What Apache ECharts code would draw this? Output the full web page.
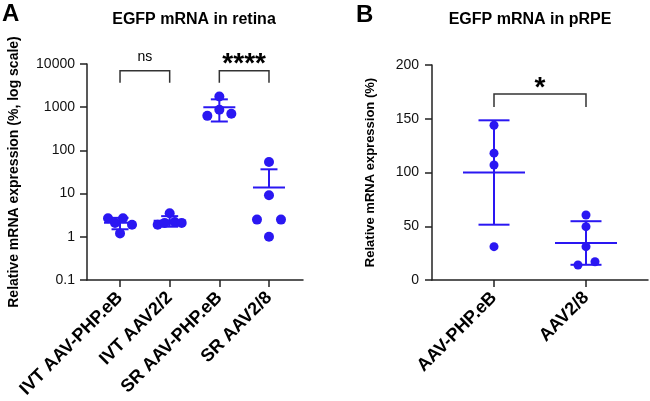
<!DOCTYPE html>
<html><head><meta charset="utf-8">
<script src="https://cdn.jsdelivr.net/npm/echarts@6/dist/echarts.min.js"></script>
<style>html,body{margin:0;padding:0;background:#fff}#c{width:650px;height:401px}</style>
</head><body><div id="c"></div>
<script>
// ---- data ----
const categoriesA = ['IVT AAV-PHP.eB', 'IVT AAV2/2', 'SR AAV-PHP.eB', 'SR AAV2/8'];
const retinaIvtPhp = [2.7, 2.7, 2.1, 1.9, 1.2];
const retinaIvt22 = [3.5, 1.9, 2.1, 2.2, 2.1];
const retinaSrPhp = [1770, 870, 630, 705];
const retinaSr28 = [54, 9.2, 2.5, 2.5, 1.0];
const yTicksA = [0.1, 1, 10, 100, 1000, 10000];
const categoriesB = ['AAV-PHP.eB', 'AAV2/8'];
const rpePhp = [144, 118, 107, 31];
const rpe28 = [60.5, 49.6, 31, 17, 14];
const yTicksB = [0, 50, 100, 150, 200];
const sigA = [{from: 1, to: 2, level: 7000, leg: 3700, label: 'ns'}, {from: 3, to: 4, level: 7000, leg: 3700, label: '****'}];
const sigB = [{from: 1, to: 2, level: 173, leg: 161, label: '*'}];

// ---- layout / style ----
const jitterA = [[-12, 3, -5, 12, 0], [0, -12, -5, 5, 12], [0, 0, -12, 12], [0, 0, -12, 12, 0]];
const jitterB = [[0, 0, 0, 0], [0, 0, 0, 9, -8]];
const BLUE = '#2a17f2';
const FONT = '"Liberation Sans", Arial, sans-serif';
const AX = '#222';

const groupsA = [retinaIvtPhp, retinaIvt22, retinaSrPhp, retinaSr28];
const groupsB = [rpePhp, rpe28];

function stats(arr) {
  const n = arr.length, m = arr.reduce((a, b) => a + b, 0) / n;
  const sd = Math.sqrt(arr.reduce((a, b) => a + (b - m) * (b - m), 0) / (n - 1));
  return [m, sd];
}
function pts(groups, jit, size) {
  const out = [];
  groups.forEach((g, i) => g.forEach((v, j) => out.push({value: [i + 1, v], symbolOffset: [jit[i][j], 0], symbolSize: size})));
  return out;
}
function errData(groups) { return groups.map((g, i) => [i + 1].concat(stats(g))); }
function errRender(meanHalf, capHalf, lw) {
  return function (params, api) {
    const x = api.value(0), m = api.value(1), s = api.value(2);
    const pm = api.coord([x, m]), pu = api.coord([x, m + s]);
    const pl = (m - s) > 0 ? api.coord([x, m - s]) : null;
    const st = {stroke: BLUE, lineWidth: lw};
    const ch = [
      {type: 'line', shape: {x1: pm[0] - meanHalf, y1: pm[1], x2: pm[0] + meanHalf, y2: pm[1]}, style: st},
      {type: 'line', shape: {x1: pm[0], y1: pu[1], x2: pm[0], y2: pl ? pl[1] : pm[1]}, style: st},
      {type: 'line', shape: {x1: pm[0] - capHalf, y1: pu[1], x2: pm[0] + capHalf, y2: pu[1]}, style: st}
    ];
    if (pl) ch.push({type: 'line', shape: {x1: pm[0] - capHalf, y1: pl[1], x2: pm[0] + capHalf, y2: pl[1]}, style: st});
    return {type: 'group', children: ch};
  };
}
function sigRender(list) {
  return function (params, api) {
    const d = list[params.dataIndex];
    const a = api.coord([d.from, d.level]), b = api.coord([d.to, d.level]);
    const al = api.coord([d.from, d.leg]);
    const isNs = d.label === 'ns';
    return {type: 'group', children: [
      {type: 'polyline', shape: {points: [[a[0], al[1]], [a[0], a[1]], [b[0], a[1]], [b[0], al[1]]]}, style: {stroke: '#333', lineWidth: 1.5, fill: null}},
      {type: 'text', x: (a[0] + b[0]) / 2, y: isNs ? a[1] - 14 : a[1] - 6,
        style: {text: d.label, textAlign: 'center', textVerticalAlign: 'middle',
          font: isNs ? '14px ' + FONT : 'bold 28px ' + FONT, fill: '#000'}}
    ]};
  };
}
const axisLineS = {show: true, onZero: false, lineStyle: {color: AX, width: 1.5}};
const tickS = {show: true, length: 7, lineStyle: {color: AX, width: 1.5}};
const xLab = {rotate: 45, fontSize: 18, fontWeight: 'bold', color: '#000', margin: 15, fontFamily: FONT};

const chart = echarts.init(document.getElementById('c'), null, {renderer: 'canvas'});
chart.setOption({
  animation: false,
  textStyle: {fontFamily: FONT},
  grid: [
    {left: 87, right: 347, top: 64, bottom: 121},
    {left: 432, right: 2, top: 65, bottom: 121}
  ],
  xAxis: [
    {type: 'value', gridIndex: 0, min: 0.335, max: 4.685, axisLine: axisLineS,
      axisTick: Object.assign({customValues: [1, 2, 3, 4]}, tickS),
      axisLabel: Object.assign({customValues: [1, 2, 3, 4], formatter: v => categoriesA[Math.round(v) - 1]}, xLab),
      splitLine: {show: false}},
    {type: 'value', gridIndex: 1, min: 0.326, max: 2.674, axisLine: axisLineS,
      axisTick: Object.assign({customValues: [1, 2]}, tickS),
      axisLabel: Object.assign({customValues: [1, 2], formatter: v => categoriesB[Math.round(v) - 1]}, xLab),
      splitLine: {show: false}}
  ],
  yAxis: [
    {type: 'log', logBase: 10, gridIndex: 0, min: yTicksA[0], max: yTicksA[yTicksA.length - 1],
      axisLine: axisLineS, axisTick: tickS, splitLine: {show: false},
      axisLabel: {fontSize: 14, color: '#111', margin: 12, fontFamily: FONT, formatter: v => String(+(+v).toPrecision(6))},
      name: 'Relative mRNA expression (%, log scale)', nameLocation: 'middle', nameGap: 66,
      nameTextStyle: {fontSize: 14, fontWeight: 'bold', color: '#000', fontFamily: FONT}},
    {type: 'value', gridIndex: 1, min: yTicksB[0], max: yTicksB[yTicksB.length - 1], interval: 50,
      axisLine: axisLineS, axisTick: tickS, splitLine: {show: false},
      axisLabel: {fontSize: 14, color: '#111', margin: 13, fontFamily: FONT},
      name: 'Relative mRNA expression (%)', nameLocation: 'middle', nameGap: 55,
      nameTextStyle: {fontSize: 13, fontWeight: 'bold', color: '#000', fontFamily: FONT}}
  ],
  graphic: [
    {type: 'text', x: 2, y: 2, style: {text: 'A', font: 'bold 24px ' + FONT, fill: '#000'}},
    {type: 'text', x: 356, y: 3, style: {text: 'B', font: 'bold 24px ' + FONT, fill: '#000'}},
    {type: 'text', x: 194, y: 20, style: {text: 'EGFP mRNA in retina', textAlign: 'center', textVerticalAlign: 'middle', font: 'bold 16px ' + FONT, fill: '#000'}},
    {type: 'text', x: 530, y: 20, style: {text: 'EGFP mRNA in pRPE', textAlign: 'center', textVerticalAlign: 'middle', font: 'bold 16px ' + FONT, fill: '#000'}}
  ],
  series: [
    {type: 'custom', xAxisIndex: 0, yAxisIndex: 0, data: errData(groupsA), renderItem: errRender(16, 8.5, 2), z: 2},
    {type: 'custom', xAxisIndex: 1, yAxisIndex: 1, data: errData(groupsB), renderItem: errRender(31, 15.5, 2), z: 2},
    {type: 'scatter', xAxisIndex: 0, yAxisIndex: 0, data: pts(groupsA, jitterA, 10), itemStyle: {color: BLUE, opacity: 1}, z: 3},
    {type: 'scatter', xAxisIndex: 1, yAxisIndex: 1, data: pts(groupsB, jitterB, 9), itemStyle: {color: BLUE, opacity: 1}, z: 3},
    {type: 'custom', xAxisIndex: 0, yAxisIndex: 0, data: sigA.map((d, i) => [i]), renderItem: sigRender(sigA), clip: false, z: 4},
    {type: 'custom', xAxisIndex: 1, yAxisIndex: 1, data: sigB.map((d, i) => [i]), renderItem: sigRender(sigB), clip: false, z: 4}
  ]
});
</script>
</body></html>
